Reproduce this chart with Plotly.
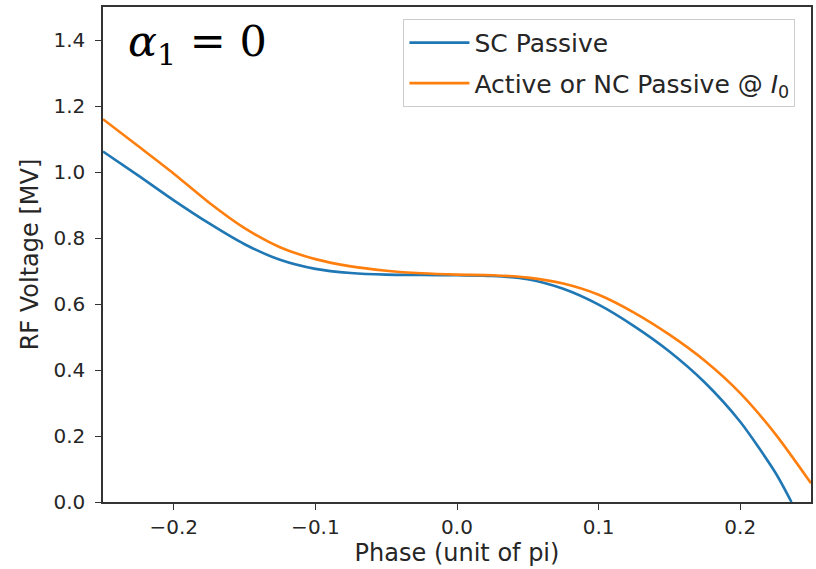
import plotly.graph_objects as go

# Data
sc_phase = [-0.25, -0.225, -0.2, -0.175, -0.15, -0.125, -0.1, -0.075, -0.05, -0.025,
            0.0, 0.025, 0.05, 0.075, 0.1, 0.125, 0.15, 0.175, 0.2, 0.225, 0.2362]
sc_volt = [1.062, 0.989, 0.914, 0.844, 0.781, 0.734, 0.7065, 0.694, 0.689, 0.688,
           0.687, 0.685, 0.675, 0.646, 0.598, 0.533, 0.456, 0.362, 0.243, 0.088, 0.0]

nc_phase = [-0.25, -0.225, -0.2, -0.175, -0.15, -0.125, -0.1, -0.075, -0.05, -0.025,
            0.0, 0.025, 0.05, 0.075, 0.1, 0.125, 0.15, 0.175, 0.2, 0.225, 0.25]
nc_volt = [1.160, 1.078, 0.995, 0.907, 0.830, 0.772, 0.736, 0.714, 0.701, 0.693,
           0.689, 0.687, 0.680, 0.662, 0.628, 0.574, 0.507, 0.428, 0.330, 0.205, 0.057]

x_ticks = [-0.2, -0.1, 0.0, 0.1, 0.2]
x_tick_text = ["\u22120.2", "\u22120.1", "0.0", "0.1", "0.2"]
y_ticks = [0.0, 0.2, 0.4, 0.6, 0.8, 1.0, 1.2, 1.4]
y_tick_text = ["0.0", "0.2", "0.4", "0.6", "0.8", "1.0", "1.2", "1.4"]

font_main = "DejaVu Sans"
axis_color = "#333333"
text_color = "#262626"

fig = go.Figure()
fig.add_trace(go.Scatter(
    x=sc_phase, y=sc_volt, mode="lines", name="SC Passive",
    line=dict(color="#1f77b4", width=2.6, shape="spline", smoothing=0.7),
    legendgroup="a",
))
fig.add_trace(go.Scatter(
    x=nc_phase, y=nc_volt, mode="lines",
    name="Active or NC Passive @ <i>I</i><sub>0</sub>",
    line=dict(color="#ff7f0e", width=2.6, shape="spline", smoothing=0.7),
    legendgroup="b",
))

axis_common = dict(
    showgrid=False, zeroline=False, showline=True, linecolor=axis_color,
    linewidth=1.5, mirror=True, ticks="outside", ticklen=6, tickwidth=1.3,
    tickcolor=axis_color, tickfont=dict(family=font_main, size=20, color=text_color),
    automargin=False,
)

fig.update_layout(
    width=816, height=569,
    margin=dict(l=103, r=5, t=7, b=67, autoexpand=False),
    paper_bgcolor="white", plot_bgcolor="white",
    showlegend=True,
    legend=dict(
        x=0.978, y=0.976, xanchor="right", yanchor="top",
        bgcolor="white", bordercolor="#cccccc", borderwidth=1,
        font=dict(family=font_main, size=25, color=text_color),
        tracegroupgap=5, traceorder="grouped", itemwidth=60,
    ),
    xaxis=dict(
        range=[-0.25, 0.25], tickvals=x_ticks, ticktext=x_tick_text,
        title=dict(text="Phase (unit of pi)", font=dict(family=font_main, size=24, color=text_color), standoff=2),
        **axis_common,
    ),
    yaxis=dict(
        range=[0, 1.5], tickvals=y_ticks, ticktext=y_tick_text, ticklabelstandoff=6,
        title=dict(text="RF Voltage [MV]", font=dict(family=font_main, size=24, color=text_color), standoff=8),
        **axis_common,
    ),
    annotations=[dict(
        text="<i>α</i><sub>1</sub> = 0", xref="paper", yref="paper",
        x=0.033, y=0.985, xanchor="left", yanchor="top", showarrow=False,
        font=dict(family="DejaVu Serif", size=43, color="black"),
    )],
)

fig.write_html("out.html", config={"displayModeBar": False},
               post_script="document.body.style.margin='0';")
